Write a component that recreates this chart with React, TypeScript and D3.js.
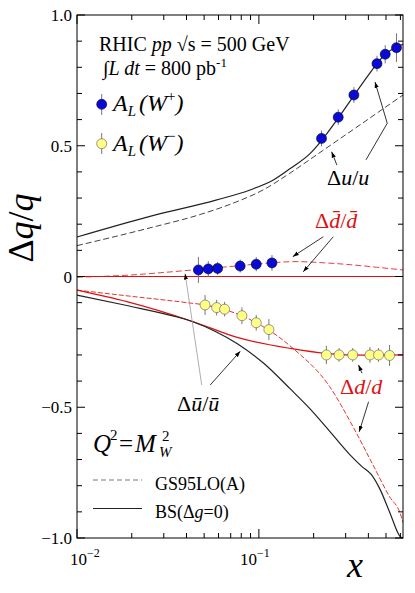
import React from 'react';
import * as d3 from 'd3';

const W = 415;
const H = 593;
const serif = '"Liberation Serif", "DejaVu Serif", serif';
const RED = '#dd1111';

type Pt = [number, number];

// A_L(W+) points
const wPlusHiX = [0.221, 0.273, 0.333, 0.446, 0.495, 0.571];
const wPlusHiY = [0.528, 0.609, 0.694, 0.814, 0.85, 0.875];
const wPlusHiErr = [0.03, 0.03, 0.03, 0.03, 0.035, 0.055];
const wPlusLoX = [0.0465, 0.0527, 0.0593, 0.0789, 0.0967, 0.118];
const wPlusLoY = [0.025, 0.029, 0.031, 0.04, 0.047, 0.052];
const wPlusLoErr = [0.05, 0.03, 0.025, 0.025, 0.027, 0.03];

// A_L(W-) points
const wMinusLoX = [0.0506, 0.0586, 0.0648, 0.0807, 0.0967, 0.1135];
const wMinusLoY = [-0.109, -0.119, -0.125, -0.15, -0.177, -0.203];
const wMinusLoErr = [0.038, 0.03, 0.028, 0.032, 0.03, 0.04];
const wMinusHiX = [0.235, 0.276, 0.328, 0.408, 0.455, 0.523];
const wMinusHiY = [-0.3, -0.3, -0.3, -0.3, -0.3, -0.302];
const wMinusHiErr = [0.035, 0.026, 0.026, 0.03, 0.026, 0.04];

// curves: BS solid, GS95LO dashed
const uBS: Pt[] = [[0.01, 0.151], [0.0252, 0.23], [0.0587, 0.293], [0.0894, 0.331], [0.12, 0.369], [0.1487, 0.413], [0.1916, 0.471], [0.221, 0.52], [0.273, 0.606], [0.333, 0.692], [0.4, 0.77], [0.446, 0.814], [0.495, 0.85], [0.55, 0.872], [0.62, 0.888]];
const uGS: Pt[] = [[0.01, 0.118], [0.0252, 0.186], [0.0475, 0.237], [0.075, 0.285], [0.1055, 0.331], [0.148, 0.395], [0.225, 0.482], [0.3, 0.542], [0.4, 0.602], [0.5, 0.649], [0.62, 0.694]];
const dbarGS: Pt[] = [[0.01, -0.003], [0.02, 0.006], [0.0386, 0.022], [0.06, 0.034], [0.08, 0.042], [0.12, 0.053], [0.16, 0.057], [0.22, 0.053], [0.32, 0.045], [0.45, 0.035], [0.62, 0.025]];
const dbarBS: Pt[] = [[0.01, 0], [0.62, 0]];
const dGS: Pt[] = [[0.01, -0.052], [0.02, -0.076], [0.0402, -0.1], [0.0506, -0.109], [0.0586, -0.119], [0.0648, -0.127], [0.0807, -0.15], [0.0967, -0.177], [0.1135, -0.205], [0.154, -0.275], [0.245, -0.421], [0.329, -0.574], [0.42, -0.715], [0.523, -0.842], [0.6, -0.908], [0.62, -0.94]];
const dBS: Pt[] = [[0.01, -0.052], [0.0188, -0.096], [0.0437, -0.173], [0.0759, -0.233], [0.149, -0.275], [0.2325, -0.294], [0.318, -0.3], [0.45, -0.301], [0.62, -0.3]];
const ubarBS: Pt[] = [[0.01, -0.071], [0.0188, -0.111], [0.0355, -0.155], [0.0429, -0.172], [0.0588, -0.213], [0.0758, -0.256], [0.1063, -0.332], [0.1488, -0.43], [0.1917, -0.507], [0.2318, -0.572], [0.318, -0.683], [0.369, -0.727], [0.4146, -0.757], [0.465, -0.816], [0.527, -0.906], [0.599, -0.995], [0.62, -1.0]];

// ticks
const xMajor = [0.01, 0.1];
const xMinor = [0.02, 0.03, 0.04, 0.05, 0.06, 0.07, 0.08, 0.09, 0.2, 0.3, 0.4, 0.5, 0.6];
const yMajor = [-1, -0.5, 0, 0.5, 1];
const yLabels = ['\u22121.0', '\u22120.5', '0', '0.5', '1.0'];
const yMinor = d3.range(-9, 10).map(i => i / 10).filter(v => Math.abs(v) !== 0.5 && v !== 0);

// annotation arrows in data space
const arrows: { pts: Pt[]; color: string }[] = [
  { pts: [[0.2685, 0.426], [0.2512, 0.477]], color: '#000' },
  { pts: [[0.388, 0.446], [0.508, 0.586], [0.435, 0.744]], color: '#000' },
  { pts: [[0.226, 0.152], [0.1535, 0.076]], color: '#000' },
  { pts: [[0.2564, 0.152], [0.1754, 0.018]], color: '#000' },
  { pts: [[0.0485, -0.415], [0.0393, 0.011]], color: '#999' },
  { pts: [[0.054, -0.415], [0.079, -0.286]], color: '#000' },
  { pts: [[0.369, -0.37], [0.353, -0.338]], color: '#000' },
  { pts: [[0.401, -0.479], [0.356, -0.594]], color: '#000' },
];

const x = d3.scaleLog().domain([0.01, 0.62]).range([77, 403]);
const y = d3.scaleLinear().domain([-1, 1]).range([538, 15]);

const line = d3.line<Pt>().x(d => x(d[0])).y(d => y(d[1])).curve(d3.curveMonotoneX);
const straight = d3.line<Pt>().x(d => x(d[0])).y(d => y(d[1]));

function Points({ xs, ys, errs, fill, stroke }: { xs: number[]; ys: number[]; errs: number[]; fill: string; stroke: string }) {
  return (
    <g>
      {xs.map((xv, i) => (
        <line key={'e' + i} x1={x(xv)} x2={x(xv)} y1={y(ys[i] - errs[i])} y2={y(ys[i] + errs[i])} stroke="#777" strokeWidth={1} />
      ))}
      {xs.map((xv, i) => (
        <circle key={'c' + i} cx={x(xv)} cy={y(ys[i])} r={5} fill={fill} stroke={stroke} strokeWidth={0.6} />
      ))}
    </g>
  );
}

export default function App() {
  const [x0, x1] = x.range();
  const [y0, y1] = y.range();
  return (
    <svg width={W} height={H} style={{ position: 'absolute', left: 0, top: 0, background: '#fff' }} fontFamily={serif}>
      <defs>
        <marker id="ah" viewBox="0 0 10 10" refX="10" refY="5" markerWidth="6" markerHeight="6" orient="auto" markerUnits="userSpaceOnUse">
          <path d="M0,1.5 L10,5 L0,8.5 Z" fill="#000" />
        </marker>
      </defs>

      {/* curves */}
      <path d={line(uGS)!} fill="none" stroke="#444" strokeWidth={1} strokeDasharray="6,3" />
      <path d={line(uBS)!} fill="none" stroke="#222" strokeWidth={1.2} />
      <path d={line(dbarGS)!} fill="none" stroke={RED} strokeWidth={1} strokeDasharray="6,3" opacity={0.8} />
      <path d={straight(dbarBS)!} fill="none" stroke={RED} strokeWidth={1.2} />
      <path d={line(dGS)!} fill="none" stroke={RED} strokeWidth={1} strokeDasharray="5,2" opacity={0.85} />
      <path d={line(dBS)!} fill="none" stroke={RED} strokeWidth={1.2} />
      <path d={line(ubarBS)!} fill="none" stroke="#222" strokeWidth={1.2} />

      {/* arrows */}
      {arrows.map((a, i) => (
        <path key={i} d={straight(a.pts)!} fill="none" stroke={a.color} strokeWidth={0.8} markerEnd="url(#ah)" />
      ))}

      {/* data points */}
      <Points xs={wPlusLoX} ys={wPlusLoY} errs={wPlusLoErr} fill="#0a0ad2" stroke="#000033" />
      <Points xs={wPlusHiX} ys={wPlusHiY} errs={wPlusHiErr} fill="#0a0ad2" stroke="#000033" />
      <Points xs={wMinusLoX} ys={wMinusLoY} errs={wMinusLoErr} fill="#ffff88" stroke="#555" />
      <Points xs={wMinusHiX} ys={wMinusHiY} errs={wMinusHiErr} fill="#ffff88" stroke="#555" />

      {/* frame */}
      <rect x={x0} y={y1} width={x1 - x0} height={y0 - y1} fill="none" stroke="#000" strokeWidth={1} />
      {xMajor.map(v => (
        <g key={'xM' + v}>
          <line x1={x(v)} x2={x(v)} y1={y0} y2={y0 - 9} stroke="#000" />
          <line x1={x(v)} x2={x(v)} y1={y1} y2={y1 + 9} stroke="#000" />
        </g>
      ))}
      {xMinor.map(v => (
        <g key={'xm' + v}>
          <line x1={x(v)} x2={x(v)} y1={y0} y2={y0 - 5} stroke="#000" />
          <line x1={x(v)} x2={x(v)} y1={y1} y2={y1 + 5} stroke="#000" />
        </g>
      ))}
      {yMajor.map(v => (
        <g key={'yM' + v}>
          <line x1={x0} x2={x0 + 8} y1={y(v)} y2={y(v)} stroke="#000" />
          <line x1={x1} x2={x1 - 8} y1={y(v)} y2={y(v)} stroke="#000" />
        </g>
      ))}
      {yMinor.map(v => (
        <g key={'ym' + v}>
          <line x1={x0} x2={x0 + 5} y1={y(v)} y2={y(v)} stroke="#000" />
          <line x1={x1} x2={x1 - 5} y1={y(v)} y2={y(v)} stroke="#000" />
        </g>
      ))}

      {/* y tick labels */}
      {yMajor.map((v, i) => (
        <text key={'yl' + v} x={x0 - 5} y={y(v) + 6} textAnchor="end" fontSize={17}>{yLabels[i]}</text>
      ))}
      {/* x tick labels */}
      <text x={x(0.01) - 7} y={565} fontSize={17}>10<tspan fontSize={12} dy={-8}>{'\u22122'}</tspan></text>
      <text x={x(0.1) - 19} y={565} fontSize={17}>10<tspan fontSize={12} dy={-8}>{'\u22121'}</tspan></text>

      {/* axis titles */}
      <text transform="translate(33,228) rotate(-90)" textAnchor="middle" fontSize={36}>
        {'\u0394'}<tspan fontStyle="italic">q</tspan>/<tspan fontStyle="italic">q</tspan>
      </text>
      <text x={347} y={577} fontSize={36} fontStyle="italic">x</text>

      {/* legend block */}
      <text x={99} y={51} fontSize={20}>RHIC <tspan fontStyle="italic">pp</tspan> {'\u221As'} = 500 GeV</text>
      <text x={103} y={75} fontSize={20}>{'\u222B'}<tspan fontStyle="italic">L dt</tspan> = 800 pb<tspan fontSize={13} dy={-8}>-1</tspan></text>

      <line x1={101.7} x2={101.7} y1={94} y2={115} stroke="#777" />
      <circle cx={101.7} cy={104.3} r={5} fill="#0a0ad2" stroke="#000033" strokeWidth={0.6} />
      <text x={113} y={111} fontSize={24} fontStyle="italic">A<tspan fontSize={15} dy={5}>L</tspan><tspan dy={-5} dx={3}>(W</tspan><tspan fontSize={15} dy={-10} fontStyle="normal">+</tspan><tspan dy={10}>)</tspan></text>

      <line x1={101.7} x2={101.7} y1={133} y2={154} stroke="#777" />
      <circle cx={101.7} cy={143.7} r={5} fill="#ffff88" stroke="#555" strokeWidth={0.6} />
      <text x={113} y={151} fontSize={24} fontStyle="italic">A<tspan fontSize={15} dy={5}>L</tspan><tspan dy={-5} dx={3}>(W</tspan><tspan fontSize={15} dy={-10} fontStyle="normal">{'\u2212'}</tspan><tspan dy={10}>)</tspan></text>

      {/* annotations */}
      <text x={327} y={185} fontSize={22}>{'\u0394'}<tspan fontStyle="italic">u</tspan>/<tspan fontStyle="italic">u</tspan></text>
      <text x={315} y={228} fontSize={22} fill={RED}>{'\u0394'}<tspan fontStyle="italic">{'d\u0304'}</tspan>/<tspan fontStyle="italic">{'d\u0304'}</tspan></text>
      <text x={177} y={411} fontSize={22}>{'\u0394'}<tspan fontStyle="italic">{'\u016B'}</tspan>/<tspan fontStyle="italic">{'\u016B'}</tspan></text>
      <text x={340} y={394} fontSize={22} fill={RED}>{'\u0394'}<tspan fontStyle="italic">d</tspan>/<tspan fontStyle="italic">d</tspan></text>

      {/* Q^2 = M_W^2 */}
      <text x={93} y={452} fontSize={25} fontStyle="italic">Q</text>
      <text x={110} y={440} fontSize={15}>2</text>
      <text x={119} y={452} fontSize={25}>=</text>
      <text x={135} y={452} fontSize={25} fontStyle="italic">M</text>
      <text x={162} y={441} fontSize={15}>2</text>
      <text x={159} y={457} fontSize={15} fontStyle="italic">W</text>

      {/* line style legend */}
      <line x1={93} x2={142} y1={480} y2={480} stroke="#777" strokeDasharray="5,3" />
      <text x={155} y={490} fontSize={18}>GS95LO(A)</text>
      <line x1={93} x2={142} y1={508.5} y2={508.5} stroke="#222" />
      <text x={155} y={518} fontSize={18}>BS({'\u0394'}<tspan fontStyle="italic">g</tspan>=0)</text>
    </svg>
  );
}
